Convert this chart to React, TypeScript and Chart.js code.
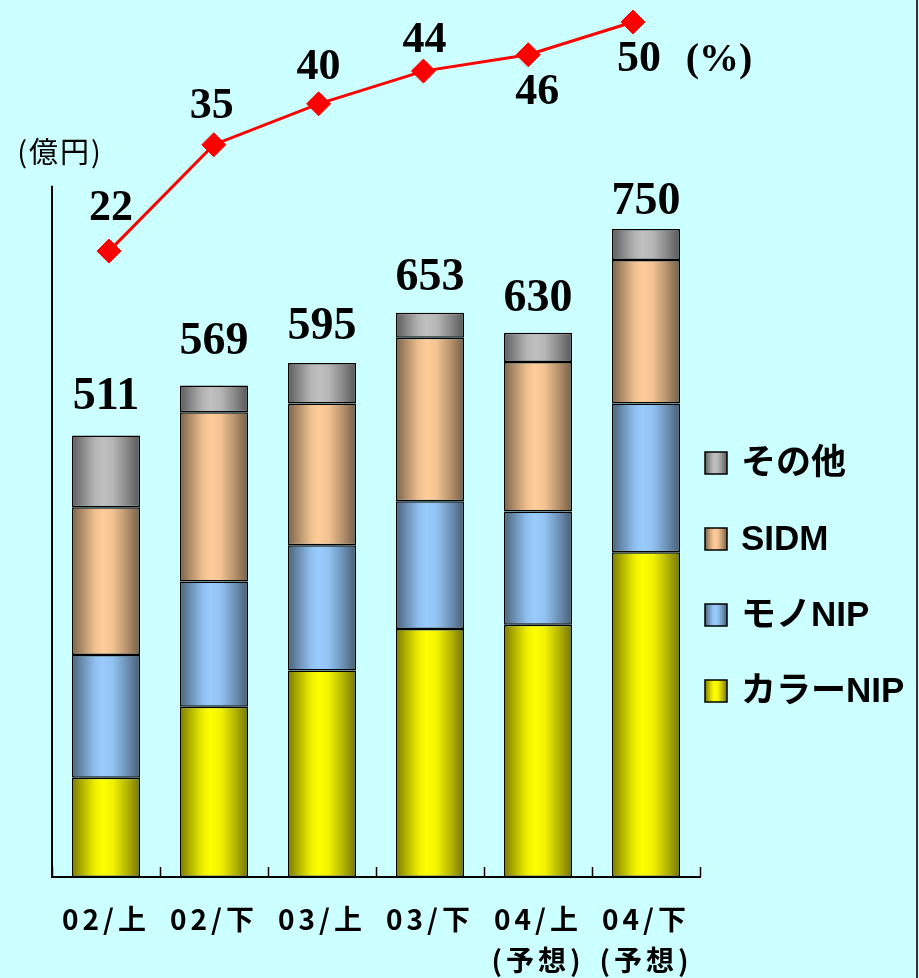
import React, { useEffect, useRef } from "react";
import { Chart, registerables } from "chart.js";

Chart.register(...registerables);

// ---- data ----
const categories: string[][] = [["02/上"], ["02/下"], ["03/上"], ["03/下"], ["04/上", "(予想)"], ["04/下", "(予想)"]];
const colorNIP = [115, 197, 239, 287, 292, 376];
const monoNIP = [142, 145, 145, 148, 131, 172];
const sidm = [171, 196, 164, 189, 173, 166];
const other = [83, 31, 47, 29, 34, 36];
const totals = [511, 569, 595, 653, 630, 750];
const pct = [22, 35, 40, 44, 46, 50];
const seriesNames = ["カラーNIP", "モノNIP", "SIDM", "その他"];
const unitLabel = "(億円)";
const pctUnit = "(%)";

// ---- styles ----
const BG = "#ccffff";
const seriesRGB: number[][] = [
  [255, 255, 0],
  [153, 204, 255],
  [255, 204, 153],
  [192, 192, 192],
];
const totalLabelGap = [26, 31, 24, 23, 22, 15];
const pctLabelOffset = [
  [2, -31],
  [-2, -27],
  [0, -25],
  [1, -19],
  [9, 49],
  [6, 49],
];

function shade(rgb: number[], f: number) {
  return `rgb(${rgb.map((c) => Math.round(Math.min(255, c * f))).join(",")})`;
}

function makeGrad(c: CanvasRenderingContext2D, x0: number, x1: number, rgb: number[]) {
  if (!Number.isFinite(x0) || !Number.isFinite(x1) || x1 <= x0) return shade(rgb, 1);
  const g = c.createLinearGradient(x0, 0, x1, 0);
  g.addColorStop(0, shade(rgb, 0.48));
  g.addColorStop(0.14, shade(rgb, 0.68));
  g.addColorStop(0.33, shade(rgb, 0.93));
  g.addColorStop(0.45, shade(rgb, 1));
  g.addColorStop(0.6, shade(rgb, 0.95));
  g.addColorStop(0.8, shade(rgb, 0.72));
  g.addColorStop(1, shade(rgb, 0.46));
  return g;
}

const bgPlugin = {
  id: "bg",
  beforeDraw(chart: any) {
    const c = chart.ctx;
    c.save();
    c.fillStyle = BG;
    c.fillRect(0, 0, chart.width, chart.height);
    c.restore();
    // spacing for the category labels drawn by the x scale
    (c as any).letterSpacing = "4px";
  },
};

const decoPlugin = {
  id: "deco",
  afterDatasetsDraw(chart: any) {
    const c: CanvasRenderingContext2D = chart.ctx;
    const xs = chart.scales.x;
    const ys = chart.scales.y;
    const area = chart.chartArea;
    c.save();
    (c as any).letterSpacing = "0px";
    // y axis line (0..800)
    c.strokeStyle = "#000";
    c.lineWidth = 2;
    c.beginPath();
    c.moveTo(area.left, ys.getPixelForValue(0));
    c.lineTo(area.left, ys.getPixelForValue(800));
    c.stroke();
    // upward tick marks at category boundaries
    const catW = (area.right - area.left) / categories.length;
    c.lineWidth = 1.5;
    for (let i = 0; i <= categories.length; i++) {
      const x = Math.round(area.left + i * catW) + 0.5;
      c.beginPath();
      c.moveTo(x, area.bottom);
      c.lineTo(x, area.bottom - 10);
      c.stroke();
    }
    // totals above bars
    c.fillStyle = "#000";
    c.font = 'bold 46px "Liberation Serif", "DejaVu Serif", serif';
    c.textAlign = "center";
    c.textBaseline = "alphabetic";
    totals.forEach((t, i) => {
      const x = xs.getPixelForValue(i);
      const y = ys.getPixelForValue(t) - totalLabelGap[i];
      c.fillText(String(t), x, y);
    });
    // pct labels
    c.font = 'bold 44px "Liberation Serif", "DejaVu Serif", serif';
    const lineMeta = chart.getDatasetMeta(4);
    lineMeta.data.forEach((pt: any, i: number) => {
      const [dx, dy] = pctLabelOffset[i];
      c.fillText(String(pct[i]), pt.x + dx, pt.y + dy);
    });
    const last = lineMeta.data[lineMeta.data.length - 1];
    if (last) {
      c.font = 'bold 40px "Liberation Serif", "DejaVu Serif", serif';
      c.fillText(pctUnit, last.x + 86, last.y + 49);
    }
    // unit label
    c.font = '29px "Noto Sans CJK JP", sans-serif';
    c.textBaseline = "middle";
    (c as any).letterSpacing = "2px";
    c.fillText(unitLabel, 60, 152);
    (c as any).letterSpacing = "0px";
    // legend
    const legendRows = [3, 2, 1, 0];
    c.textAlign = "left";
    legendRows.forEach((si, r) => {
      const cy = 463 + r * 76;
      const x0 = 705;
      const s = 22;
      c.fillStyle = makeGrad(c, x0, x0 + s, seriesRGB[si]);
      c.fillRect(x0, cy - s / 2, s, s);
      c.strokeStyle = "#000";
      c.lineWidth = 1.5;
      c.strokeRect(x0, cy - s / 2, s, s);
      c.fillStyle = "#000";
      c.font = 'bold 35px "Liberation Sans", "Noto Sans CJK JP", sans-serif';
      c.fillText(seriesNames[si], 741, cy + 1);
    });
    // right border
    c.fillStyle = "#333";
    c.fillRect(916, 0, 2, chart.height);
    c.restore();
  },
};

export default function App() {
  const ref = useRef<HTMLCanvasElement | null>(null);
  useEffect(() => {
    document.body.style.margin = "0";
    const canvas = ref.current;
    if (!canvas) return;
    const seriesData = [colorNIP, monoNIP, sidm, other];
    const barDatasets = seriesData.map((d, si) => ({
      type: "bar" as const,
      label: seriesNames[si],
      data: d,
      order: 1,
      grouped: false,
      borderColor: "#000",
      borderWidth: 1.5,
      borderSkipped: false,
      barPercentage: 0.63,
      categoryPercentage: 1,
      backgroundColor: (ctx: any) => {
        const chart = ctx.chart;
        const xs = chart.scales?.x;
        const rgb = seriesRGB[si];
        if (!xs || ctx.type !== "data") return shade(rgb, 1);
        const cx = xs.getPixelForValue(ctx.dataIndex);
        const half = ((xs.right - xs.left) / categories.length) * 0.63 / 2;
        return makeGrad(chart.ctx, cx - half, cx + half, rgb);
      },
    }));
    const chart = new Chart(canvas, {
      type: "bar",
      data: {
        labels: categories as any,
        datasets: [
          ...barDatasets,
          {
            type: "line" as const,
            label: "%",
            data: pct.map((v, i) => ({ x: i, y: v })),
            xAxisID: "x2",
            yAxisID: "y2",
            borderColor: "#ff0000",
            borderWidth: 3,
            pointStyle: "rectRot",
            pointRadius: 12,
            pointBackgroundColor: "#ff0000",
            pointBorderColor: "#ff0000",
            pointBorderWidth: 1,
            clip: false,
            order: 0,
            tension: 0,
          } as any,
        ],
      },
      options: {
        responsive: false,
        animation: false,
        layout: { padding: { left: 52, right: 219, top: 10, bottom: 0 } },
        plugins: { legend: { display: false }, tooltip: { enabled: false } },
        scales: {
          x: {
            stacked: true,
            grid: { display: false, drawTicks: false },
            border: { display: true, color: "#000", width: 2 },
            ticks: {
              color: "#000",
              padding: 22,
              font: { family: '"Noto Sans CJK JP", sans-serif', size: 28, weight: "bold", lineHeight: 1.45 },
              maxRotation: 0,
              autoSkip: false,
            },
            afterFit: (s: any) => {
              s.height = 101;
            },
          },
          y: { stacked: true, min: 0, max: 1000, display: false },
          x2: {
            type: "linear",
            axis: "x",
            position: "bottom",
            display: false,
            offset: false,
            grid: { offset: false },
            bounds: "data",
            min: -0.544,
            max: 5.639,
          },
          y2: { type: "linear", axis: "y", position: "left", display: false, bounds: "data", min: -54.5, max: 51.1 },
        },
      } as any,
      plugins: [bgPlugin, decoPlugin],
    });
    return () => chart.destroy();
  }, []);
  return <canvas ref={ref} width={919} height={978} style={{ display: "block", width: 919, height: 978 }} />;
}
